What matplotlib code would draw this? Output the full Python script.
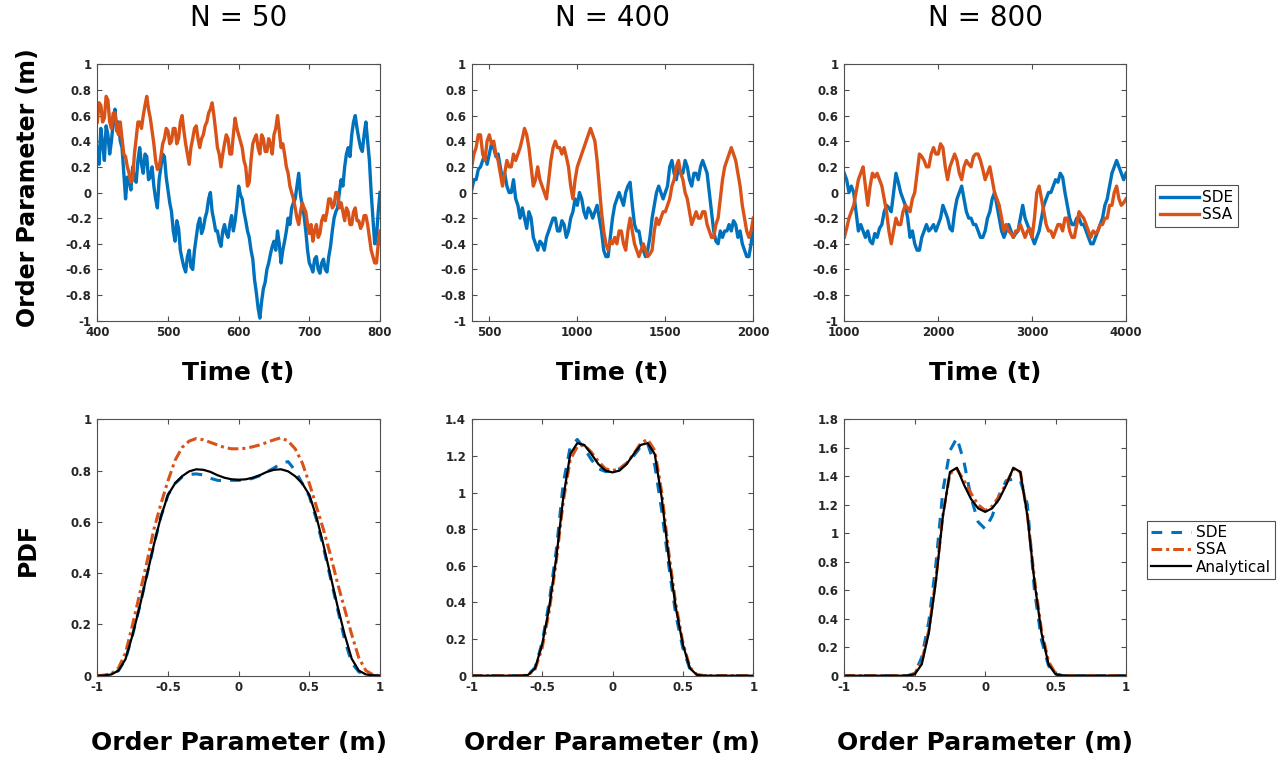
import numpy as np
import matplotlib
matplotlib.use("Agg")
import matplotlib.pyplot as plt

# ---------------- data ----------------
titles = ["N = 50", "N = 400", "N = 800"]
time_ranges = [(400, 800), (400, 2000), (1000, 4000)]
time_ticks = [[400, 500, 600, 700, 800], [500, 1000, 1500, 2000], [1000, 2000, 3000, 4000]]

sde_ts_50 = [0.35, 0.22, 0.5, 0.38, 0.25, 0.52, 0.45, 0.3, 0.4, 0.55, 0.65, 0.48, 0.55, 0.4, 0.35, 0.15,
             -0.05, 0.12, 0.1, 0.02, 0.2, 0.1, 0.08, 0.25, 0.35, 0.22, 0.15, 0.3, 0.28, 0.1, 0.12, 0.2,
             0.05, -0.05, -0.12, 0.1, 0.2, 0.3, 0.28, 0.12, 0.02, -0.08, -0.15, -0.3, -0.38, -0.22, -0.28,
             -0.45, -0.52, -0.58, -0.62, -0.5, -0.45, -0.58, -0.6, -0.45, -0.35, -0.25, -0.2, -0.32, -0.28,
             -0.2, -0.15, -0.05, 0.0, -0.15, -0.22, -0.3, -0.3, -0.38, -0.42, -0.3, -0.25, -0.32, -0.35,
             -0.25, -0.18, -0.3, -0.22, -0.1, 0.05, -0.02, -0.05, -0.15, -0.22, -0.3, -0.35, -0.45, -0.52,
             -0.68, -0.78, -0.9, -0.98, -0.85, -0.75, -0.7, -0.6, -0.55, -0.48, -0.42, -0.38, -0.45, -0.3,
             -0.4, -0.55, -0.45, -0.38, -0.3, -0.2, -0.25, -0.12, -0.08, -0.05, 0.05, 0.15, -0.02, -0.1,
             -0.18, -0.3, -0.45, -0.55, -0.58, -0.62, -0.52, -0.5, -0.6, -0.63, -0.55, -0.52, -0.6, -0.62,
             -0.5, -0.42, -0.3, -0.2, -0.15, -0.12, 0.0, 0.1, 0.05, 0.2, 0.3, 0.35, 0.28, 0.45, 0.55, 0.6,
             0.5, 0.42, 0.35, 0.32, 0.45, 0.55, 0.4, 0.25, 0.0, -0.2, -0.4, -0.35, -0.15, 0.0]
ssa_ts_50 = [0.55, 0.7, 0.68, 0.55, 0.58, 0.75, 0.72, 0.55, 0.5, 0.62, 0.62, 0.5, 0.45, 0.55, 0.42, 0.3,
             0.28, 0.2, 0.15, 0.08, 0.1, 0.3, 0.42, 0.55, 0.55, 0.5, 0.6, 0.68, 0.75, 0.65, 0.58, 0.48,
             0.38, 0.25, 0.18, 0.2, 0.28, 0.38, 0.42, 0.5, 0.48, 0.38, 0.4, 0.5, 0.5, 0.38, 0.42, 0.55, 0.6,
             0.48, 0.38, 0.3, 0.22, 0.35, 0.42, 0.5, 0.52, 0.42, 0.35, 0.42, 0.45, 0.52, 0.55, 0.62, 0.65,
             0.7, 0.6, 0.48, 0.35, 0.3, 0.2, 0.3, 0.38, 0.45, 0.42, 0.3, 0.3, 0.45, 0.58, 0.5, 0.45, 0.4,
             0.35, 0.25, 0.2, 0.05, 0.08, 0.25, 0.38, 0.42, 0.45, 0.35, 0.3, 0.45, 0.42, 0.32, 0.32, 0.42,
             0.38, 0.3, 0.45, 0.5, 0.6, 0.48, 0.35, 0.38, 0.3, 0.2, 0.15, 0.05, 0.0, -0.05, -0.12, -0.2,
             -0.25, -0.15, -0.08, -0.12, -0.15, -0.25, -0.32, -0.25, -0.38, -0.3, -0.25, -0.35, -0.32,
             -0.22, -0.18, -0.22, -0.15, -0.05, -0.05, -0.12, -0.1, 0.0, 0.0, -0.12, -0.08, -0.15, -0.22,
             -0.12, -0.15, -0.25, -0.25, -0.15, -0.12, -0.22, -0.22, -0.28, -0.25, -0.18, -0.18, -0.25,
             -0.35, -0.45, -0.5, -0.55, -0.55, -0.4, -0.3]

sde_ts_400 = [0.02, 0.1, 0.1, 0.18, 0.2, 0.25, 0.3, 0.22, 0.3, 0.38, 0.35, 0.28, 0.3, 0.2, 0.1, 0.15, 0.05,
              0.0, 0.0, 0.1, -0.05, -0.1, -0.2, -0.12, -0.2, -0.28, -0.15, -0.2, -0.35, -0.4, -0.45, -0.38,
              -0.4, -0.45, -0.35, -0.3, -0.25, -0.2, -0.2, -0.3, -0.3, -0.22, -0.25, -0.35, -0.3, -0.2,
              -0.15, -0.05, -0.1, 0.0, -0.05, -0.15, -0.2, -0.12, -0.15, -0.2, -0.15, -0.1, -0.2, -0.3,
              -0.45, -0.5, -0.5, -0.35, -0.2, -0.1, -0.05, 0.0, -0.05, -0.1, 0.0, 0.05, 0.08, -0.1, -0.25,
              -0.3, -0.3, -0.4, -0.45, -0.5, -0.45, -0.35, -0.2, -0.1, 0.0, 0.05, 0.0, -0.05, 0.0, 0.05,
              0.2, 0.25, 0.15, 0.1, 0.2, 0.15, 0.15, 0.25, 0.2, 0.1, 0.05, 0.15, 0.15, 0.1, 0.2, 0.25, 0.2,
              0.15, 0.0, -0.15, -0.3, -0.38, -0.4, -0.3, -0.35, -0.3, -0.3, -0.25, -0.3, -0.22, -0.25,
              -0.35, -0.3, -0.4, -0.45, -0.5, -0.5, -0.4, -0.25]
ssa_ts_400 = [0.2, 0.3, 0.35, 0.45, 0.45, 0.3, 0.25, 0.4, 0.45, 0.38, 0.4, 0.3, 0.25, 0.15, 0.05, 0.15,
              0.25, 0.2, 0.2, 0.3, 0.25, 0.3, 0.35, 0.42, 0.5, 0.45, 0.35, 0.2, 0.05, 0.1, 0.2, 0.1, 0.05,
              0.0, -0.05, 0.1, 0.25, 0.35, 0.4, 0.35, 0.35, 0.3, 0.35, 0.28, 0.2, 0.05, -0.05, 0.1, 0.2,
              0.25, 0.3, 0.35, 0.4, 0.45, 0.5, 0.45, 0.4, 0.25, 0.05, -0.15, -0.3, -0.4, -0.45, -0.38, -0.4,
              -0.35, -0.4, -0.3, -0.3, -0.4, -0.45, -0.3, -0.2, -0.3, -0.4, -0.45, -0.5, -0.45, -0.4, -0.45,
              -0.5, -0.48, -0.45, -0.3, -0.2, -0.25, -0.2, -0.15, -0.15, -0.1, -0.05, 0.05, 0.1, 0.2, 0.25,
              0.15, 0.1, 0.0, -0.05, -0.15, -0.25, -0.2, -0.15, -0.2, -0.2, -0.15, -0.15, -0.25, -0.3,
              -0.35, -0.35, -0.25, -0.2, -0.05, 0.1, 0.2, 0.25, 0.3, 0.35, 0.3, 0.25, 0.15, 0.05, -0.1,
              -0.2, -0.3, -0.35, -0.3, -0.2]

sde_ts_800 = [0.15, 0.1, 0.0, 0.05, 0.0, -0.15, -0.3, -0.25, -0.3, -0.35, -0.3, -0.38, -0.4, -0.32, -0.35,
              -0.28, -0.25, -0.15, -0.1, -0.12, -0.15, 0.0, 0.15, 0.08, 0.0, -0.05, -0.1, -0.2, -0.35,
              -0.3, -0.4, -0.45, -0.45, -0.35, -0.3, -0.25, -0.3, -0.28, -0.25, -0.3, -0.25, -0.2, -0.1,
              -0.15, -0.2, -0.28, -0.3, -0.15, -0.05, 0.0, 0.05, -0.05, -0.15, -0.2, -0.2, -0.25, -0.25,
              -0.3, -0.35, -0.35, -0.3, -0.2, -0.15, -0.05, 0.0, -0.1, -0.2, -0.3, -0.35, -0.3, -0.25, -0.3,
              -0.35, -0.32, -0.3, -0.2, -0.1, -0.2, -0.25, -0.3, -0.35, -0.4, -0.35, -0.3, -0.2, -0.1,
              -0.05, 0.0, 0.0, 0.05, 0.1, 0.08, 0.15, 0.12, 0.0, -0.1, -0.2, -0.25, -0.25, -0.2, -0.2,
              -0.25, -0.25, -0.3, -0.35, -0.4, -0.4, -0.35, -0.3, -0.25, -0.2, -0.1, -0.05, 0.05, 0.15, 0.2,
              0.25, 0.2, 0.15, 0.1, 0.15]
ssa_ts_800 = [-0.35, -0.28, -0.2, -0.15, -0.1, 0.0, 0.1, 0.15, 0.2, 0.05, -0.1, 0.05, 0.15, 0.12, 0.15, 0.1,
              0.05, -0.05, -0.15, -0.3, -0.4, -0.3, -0.2, -0.25, -0.25, -0.15, -0.1, -0.12, -0.15, -0.05,
              0.0, 0.15, 0.3, 0.28, 0.25, 0.2, 0.2, 0.3, 0.35, 0.3, 0.3, 0.38, 0.35, 0.2, 0.1, 0.2, 0.25,
              0.3, 0.25, 0.15, 0.1, 0.2, 0.25, 0.22, 0.2, 0.28, 0.3, 0.3, 0.25, 0.18, 0.1, 0.15, 0.2, 0.1,
              0.0, -0.05, -0.1, -0.2, -0.3, -0.25, -0.3, -0.32, -0.35, -0.3, -0.3, -0.25, -0.3, -0.35, -0.3,
              -0.28, -0.35, -0.2, 0.0, 0.05, -0.05, -0.15, -0.25, -0.3, -0.3, -0.35, -0.3, -0.25, -0.25,
              -0.3, -0.2, -0.2, -0.3, -0.35, -0.35, -0.25, -0.15, -0.18, -0.2, -0.25, -0.3, -0.35, -0.3,
              -0.32, -0.3, -0.25, -0.25, -0.2, -0.2, -0.1, -0.1, 0.0, 0.05, -0.05, -0.1, -0.08, -0.05]

m_grid = [-1.0, -0.95, -0.9, -0.85, -0.8, -0.75, -0.7, -0.65, -0.6, -0.55, -0.5, -0.45, -0.4, -0.35, -0.3,
          -0.25, -0.2, -0.15, -0.1, -0.05, 0.0, 0.05, 0.1, 0.15, 0.2, 0.25, 0.3, 0.35, 0.4, 0.45, 0.5, 0.55,
          0.6, 0.65, 0.7, 0.75, 0.8, 0.85, 0.9, 0.95, 1.0]

pdf_sde_50 = [0, 0.001, 0.005, 0.02, 0.065, 0.16, 0.27, 0.39, 0.51, 0.62, 0.705, 0.75, 0.775, 0.785, 0.787,
              0.783, 0.77, 0.762, 0.76, 0.762, 0.762, 0.763, 0.77, 0.78, 0.795, 0.81, 0.828, 0.835, 0.8,
              0.75, 0.7, 0.61, 0.5, 0.38, 0.26, 0.14, 0.05, 0.015, 0.004, 0.001, 0]
pdf_ssa_50 = [0, 0.002, 0.008, 0.03, 0.09, 0.2, 0.32, 0.44, 0.57, 0.67, 0.76, 0.84, 0.89, 0.915, 0.925,
              0.92, 0.91, 0.9, 0.89, 0.885, 0.885, 0.887, 0.893, 0.9, 0.91, 0.92, 0.928, 0.915, 0.885, 0.83,
              0.75, 0.66, 0.57, 0.47, 0.36, 0.26, 0.16, 0.07, 0.02, 0.004, 0]
pdf_ana_50 = [0, 0.001, 0.005, 0.02, 0.065, 0.16, 0.27, 0.39, 0.51, 0.62, 0.705, 0.75, 0.778, 0.797, 0.805,
              0.803, 0.795, 0.782, 0.772, 0.766, 0.764, 0.766, 0.772, 0.782, 0.795, 0.803, 0.805, 0.797,
              0.778, 0.75, 0.705, 0.62, 0.51, 0.39, 0.27, 0.16, 0.066, 0.02, 0.005, 0.001, 0]

pdf_sde_400 = [0, 0, 0, 0, 0, 0, 0, 0, 0.004, 0.045, 0.18, 0.4, 0.68, 1.05, 1.25, 1.29, 1.24, 1.18, 1.13,
               1.115, 1.115, 1.13, 1.16, 1.2, 1.25, 1.265, 1.15, 0.9, 0.6, 0.33, 0.15, 0.035, 0.003, 0, 0,
               0, 0, 0, 0, 0, 0]
pdf_ssa_400 = [0, 0, 0, 0, 0, 0, 0, 0, 0.003, 0.035, 0.15, 0.35, 0.62, 0.95, 1.18, 1.25, 1.26, 1.22, 1.17,
               1.13, 1.12, 1.13, 1.16, 1.21, 1.27, 1.29, 1.23, 1.0, 0.67, 0.39, 0.18, 0.045, 0.006, 0.001,
               0, 0, 0, 0, 0, 0, 0]
pdf_ana_400 = [0, 0, 0, 0, 0, 0, 0, 0, 0.004, 0.04, 0.17, 0.37, 0.64, 0.97, 1.21, 1.27, 1.26, 1.21, 1.155,
               1.12, 1.11, 1.12, 1.155, 1.21, 1.26, 1.27, 1.21, 0.97, 0.64, 0.37, 0.17, 0.04, 0.004, 0, 0,
               0, 0, 0, 0, 0, 0]

pdf_sde_800 = [0, 0, 0, 0, 0, 0, 0, 0, 0, 0.001, 0.015, 0.13, 0.38, 0.78, 1.3, 1.58, 1.67, 1.5, 1.25, 1.08,
               1.03, 1.12, 1.27, 1.37, 1.38, 1.37, 1.2, 0.6, 0.25, 0.07, 0.01, 0, 0, 0, 0, 0, 0, 0, 0, 0, 0]
pdf_ssa_800 = [0, 0, 0, 0, 0, 0, 0, 0, 0, 0.002, 0.015, 0.1, 0.32, 0.68, 1.13, 1.42, 1.45, 1.37, 1.28,
               1.2, 1.16, 1.19, 1.26, 1.35, 1.45, 1.43, 1.13, 0.68, 0.32, 0.1, 0.015, 0.002, 0, 0, 0, 0, 0,
               0, 0, 0, 0]
pdf_ana_800 = [0, 0, 0, 0, 0, 0, 0, 0, 0, 0.001, 0.01, 0.08, 0.3, 0.66, 1.12, 1.43, 1.46, 1.34, 1.24,
               1.175, 1.15, 1.175, 1.24, 1.34, 1.46, 1.43, 1.12, 0.66, 0.3, 0.08, 0.01, 0.001, 0, 0, 0, 0,
               0, 0, 0, 0, 0]

ts_sde = [sde_ts_50, sde_ts_400, sde_ts_800]
ts_ssa = [ssa_ts_50, ssa_ts_400, ssa_ts_800]
pdf_sde = [pdf_sde_50, pdf_sde_400, pdf_sde_800]
pdf_ssa = [pdf_ssa_50, pdf_ssa_400, pdf_ssa_800]
pdf_ana = [pdf_ana_50, pdf_ana_400, pdf_ana_800]
pdf_ymax = [1.0, 1.4, 1.8]

# ---------------- style ----------------
BLUE = "#0072BD"
ORANGE = "#D95319"
TXT = "#262626"
SPINE = "#505050"

fig = plt.figure(figsize=(12.83, 7.61), dpi=100)
W, H = 1283, 761

cols = [(97.3, 380.0), (471.7, 753.3), (844.3, 1126.0)]
top_row = (64.3, 320.7)
bot_row = (419.3, 675.7)


def make_ax(col, row):
    x0, x1 = col
    y0, y1 = row
    return fig.add_axes([x0 / W, 1 - y1 / H, (x1 - x0) / W, (y1 - y0) / H])


def style(ax):
    for s in ax.spines.values():
        s.set_color(SPINE)
        s.set_linewidth(0.8)
    ax.tick_params(direction="in", top=True, right=True, length=3.5, width=0.8,
                   colors=SPINE, labelcolor=TXT, labelsize=8.5, pad=4)
    for lab in ax.get_xticklabels() + ax.get_yticklabels():
        lab.set_fontweight("bold")


def fmt(v):
    v = round(float(v), 2)
    if v == 0:
        return "0"
    return f"{v:g}"


for i in range(3):
    # time series
    ax = make_ax(cols[i], top_row)
    t0, t1 = time_ranges[i]
    t_sde = np.linspace(t0, t1, len(ts_sde[i]))
    t_ssa = np.linspace(t0, t1, len(ts_ssa[i]))
    l1, = ax.plot(t_sde, ts_sde[i], color=BLUE, lw=2.4, label="SDE")
    l2, = ax.plot(t_ssa, ts_ssa[i], color=ORANGE, lw=2.4, label="SSA")
    ax.set_xlim(t0, t1)
    ax.set_ylim(-1, 1)
    yt = [-1, -0.8, -0.6, -0.4, -0.2, 0, 0.2, 0.4, 0.6, 0.8, 1]
    ax.set_yticks(yt)
    ax.set_yticklabels([fmt(v) for v in yt])
    ax.set_xticks(time_ticks[i])
    ax.set_xticklabels([fmt(v) for v in time_ticks[i]])
    style(ax)
    xc = (cols[i][0] + cols[i][1]) / 2
    fig.text(xc / W, 1 - 18 / H, titles[i], ha="center", va="center", fontsize=20, color="black")
    fig.text(xc / W, 1 - 373 / H, "Time (t)", ha="center", va="center", fontsize=18,
             fontweight="bold", color="black")
    if i == 0:
        top_handles = [l1, l2]

    # pdfs
    ax = make_ax(cols[i], bot_row)
    b1, = ax.plot(m_grid, pdf_sde[i], color=BLUE, lw=2.2, ls=(0, (3.5, 3)), label="SDE")
    b2, = ax.plot(m_grid, pdf_ssa[i], color=ORANGE, lw=2.2, ls=(0, (3.5, 1.3, 1.0, 1.3)), label="SSA")
    b3, = ax.plot(m_grid, pdf_ana[i], color="black", lw=1.6, label="Analytical")
    ax.set_xlim(-1, 1)
    ax.set_ylim(0, pdf_ymax[i])
    xt = [-1, -0.5, 0, 0.5, 1]
    ax.set_xticks(xt)
    ax.set_xticklabels([fmt(v) for v in xt])
    yt = [round(0.2 * k, 1) for k in range(int(round(pdf_ymax[i] / 0.2)) + 1)]
    ax.set_yticks(yt)
    ax.set_yticklabels([fmt(v) for v in yt])
    style(ax)
    fig.text(xc / W, 1 - 743 / H, "Order Parameter (m)", ha="center", va="center", fontsize=18,
             fontweight="bold", color="black")
    if i == 0:
        bot_handles = [b1, b2, b3]

fig.text(28 / W, 1 - 188 / H, "Order Parameter (m)", rotation=90, ha="center", va="center",
         fontsize=17, fontweight="bold", color="black")
fig.text(28 / W, 1 - 549 / H, "PDF", rotation=90, ha="center", va="center",
         fontsize=17, fontweight="bold", color="black")

leg1 = fig.legend(top_handles, ["SDE", "SSA"], loc="center", bbox_to_anchor=(1196.5 / W, 1 - 206 / H),
                  fontsize=11, frameon=True, fancybox=False, edgecolor="#262626", handlelength=2.6,
                  handletextpad=0.2, borderpad=0.3, labelspacing=0.15, borderaxespad=0)
leg1.get_frame().set_linewidth(0.8)
leg2 = fig.legend(bot_handles, ["SDE", "SSA", "Analytical"], loc="center",
                  bbox_to_anchor=(1211 / W, 1 - 550 / H), fontsize=11, frameon=True, fancybox=False,
                  edgecolor="#262626", handlelength=2.6, handletextpad=0.3, borderpad=0.3,
                  labelspacing=0.15, borderaxespad=0)
leg2.get_frame().set_linewidth(0.8)

fig.savefig("out.png", dpi=100, facecolor="white")
